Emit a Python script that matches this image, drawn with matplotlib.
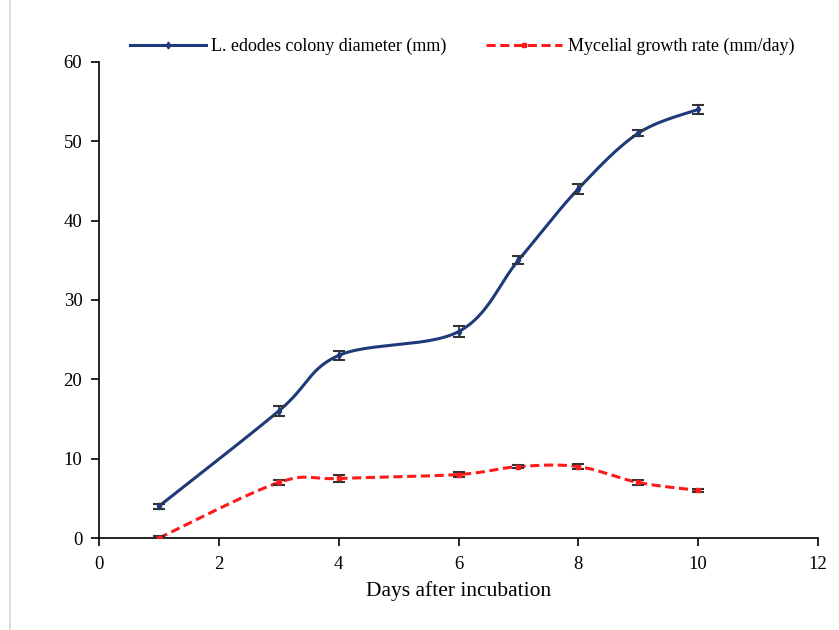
import numpy as np
import matplotlib.pyplot as plt
from matplotlib.lines import Line2D

days = [1, 3, 4, 6, 7, 8, 9, 10]
diameter = [4, 16, 23, 26, 35, 44, 51, 54]
diameter_err = [0.3, 0.6, 0.6, 0.7, 0.5, 0.6, 0.4, 0.6]
growth = [0, 7, 7.5, 8, 9, 9, 7, 6]
growth_err = [0.2, 0.3, 0.4, 0.3, 0.2, 0.3, 0.3, 0.2]


def smooth(x, y, n=30):
    # catmull-rom style smoothing like excel's smoothed line
    x = np.asarray(x, float)
    y = np.asarray(y, float)
    px = np.concatenate([[x[0]], x, [x[-1]]])
    py = np.concatenate([[y[0]], y, [y[-1]]])
    xs, ys = [], []
    t = np.linspace(0, 1, n)
    for i in range(1, len(px) - 2):
        p0, p1, p2, p3 = [np.array([px[j], py[j]]) for j in (i - 1, i, i + 1, i + 2)]
        c1 = p1 + (p2 - p0) / 6
        c2 = p2 - (p3 - p1) / 6
        b = ((1 - t) ** 3)[:, None] * p1 + (3 * (1 - t) ** 2 * t)[:, None] * c1 \
            + (3 * (1 - t) * t ** 2)[:, None] * c2 + (t ** 3)[:, None] * p2
        xs.extend(b[:, 0])
        ys.extend(b[:, 1])
    return np.array(xs), np.array(ys)


plt.rcParams['font.family'] = ['Liberation Serif', 'DejaVu Serif']

fig = plt.figure(figsize=(8.39, 6.3), dpi=100)
ax = fig.add_axes([0.118, 0.146, 0.857, 0.756])

blue = '#1f3a78'
red = '#ff1a1a'

sx, sy = smooth(days, diameter)
ax.plot(sx, sy, color=blue, lw=2.2, zorder=3)
ax.errorbar(days, diameter, yerr=diameter_err, fmt='d', ms=3.5, color=blue,
            ecolor='#333333', elinewidth=1.2, capsize=4, capthick=1.5, zorder=4)

rx, ry = smooth(days, growth)
ax.plot(rx, ry, color=red, lw=2.2, ls=(0, (3, 1.5)), zorder=3)
ax.errorbar(days, growth, yerr=growth_err, fmt='s', ms=3, color=red,
            ecolor='#333333', elinewidth=1.2, capsize=4, capthick=1.5, zorder=4)

ax.set_xlim(0, 12)
ax.set_ylim(0, 60)
ax.set_xticks(range(0, 13, 2))
ax.set_yticks(range(0, 61, 10))
ax.spines['top'].set_visible(False)
ax.spines['right'].set_visible(False)
ax.tick_params(labelsize=13.5, length=6, width=1.2)
ax.tick_params(axis='x', pad=7)
ax.tick_params(axis='y', pad=6)
for s in ('left', 'bottom'):
    ax.spines[s].set_linewidth(1.2)
ax.set_xlabel('Days after incubation', fontsize=15.5, labelpad=6)

handles = [
    Line2D([], [], color=blue, lw=2.2, marker='d', ms=3.5),
    Line2D([], [], color=red, lw=2.2, ls=(0, (3, 1.5)), marker='s', ms=3),
]
labels = ['L. edodes colony diameter (mm)', 'Mycelial growth rate (mm/day)']
leg = ax.legend(handles, labels, loc='lower center', bbox_to_anchor=(0.505, 0.98), ncol=2,
                frameon=False, fontsize=13, handlelength=4.2, columnspacing=2.2,
                handletextpad=0.3, numpoints=1)

fig.add_artist(plt.Line2D([0.012, 0.012], [0, 1], color='#dddddd', lw=1.5))

fig.savefig('out.png', dpi=100)
